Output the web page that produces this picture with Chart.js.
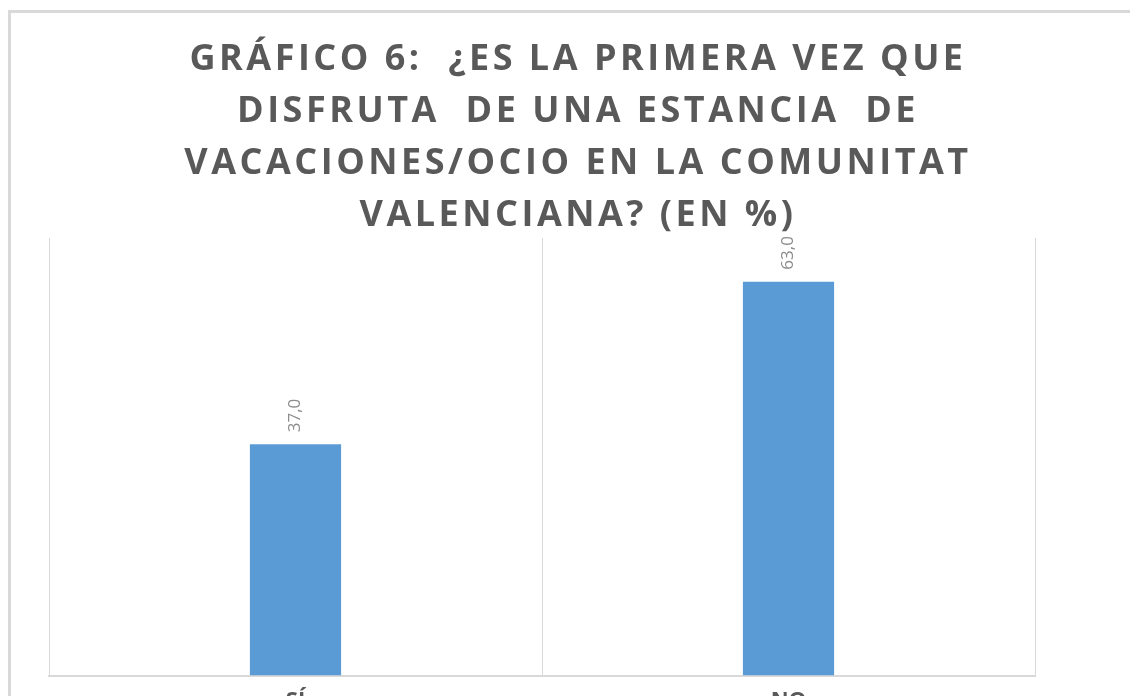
<!DOCTYPE html>
<html lang="es">
<head>
  <meta charset="UTF-8">
  <title>Gráfico 6</title>
  <script src="https://cdn.jsdelivr.net/npm/chart.js"></script>
  <style>
    html, body {
      margin: 0;
      background: #fff;
      overflow: hidden;
    }
    .frame {
      position: absolute;
      left: 8px;
      top: 10px;
      width: 1122px;
      height: 740px;
      border-left: 3px solid #d9d9d9;
      border-top: 3px solid #d9d9d9;
    }
    .frame canvas {
      display: block;
    }
  </style>
</head>
<body>
  <div class="frame">
    <canvas id="chart" width="1119" height="740"></canvas>
  </div>

  <script>
    const categories = ['SÍ', 'NO'];
    const values = [37.0, 63.0];
    const titleLines = [
      'GRÁFICO 6:  ¿ES LA PRIMERA VEZ QUE',
      'DISFRUTA  DE UNA ESTANCIA  DE',
      'VACACIONES/OCIO EN LA COMUNITAT',
      'VALENCIANA? (EN %)'
    ];

    // value labels turned on their side, just above each bar
    const barLabels = {
      id: 'barLabels',
      afterDatasetsDraw(chart) {
        const ctx = chart.ctx;
        const meta = chart.getDatasetMeta(0);
        ctx.save();
        ctx.font = '17px "Open Sans", sans-serif';
        ctx.fillStyle = '#8c8c8c';
        ctx.textAlign = 'left';
        ctx.textBaseline = 'middle';
        meta.data.forEach((bar, i) => {
          ctx.save();
          ctx.translate(bar.x, bar.y - 12);
          ctx.rotate(-Math.PI / 2);
          ctx.fillText(values[i].toFixed(1).replace('.', ','), 0, 0);
          ctx.restore();
        });
        ctx.restore();
      }
    };

    // title: shifted a bit right of the plot centre and letter-spaced, as in the original
    const titleTweak = {
      id: 'titleTweak',
      afterLayout(chart) {
        const tb = chart.titleBlock;
        if (!tb) return;
        tb.left += 36;
        tb.right += 36;
        if (!tb._spaced) {
          const draw = tb.draw;
          tb.draw = function () {
            this.ctx.save();
            this.ctx.letterSpacing = '3.5px';
            draw.apply(this, arguments);
            this.ctx.restore();
          };
          tb._spaced = true;
        }
      }
    };

    new Chart(document.getElementById('chart'), {
      type: 'bar',
      data: {
        labels: categories,
        datasets: [{
          data: values,
          backgroundColor: '#5b9bd5',
          barPercentage: 0.185,
          categoryPercentage: 1
        }]
      },
      options: {
        responsive: false,
        animation: false,
        layout: {
          padding: { left: 38, right: 95, top: 0, bottom: 27 }
        },
        plugins: {
          legend: { display: false },
          tooltip: { enabled: false },
          title: {
            display: true,
            text: titleLines,
            color: '#595959',
            font: { family: '"Open Sans", sans-serif', size: 36, weight: 'bold', lineHeight: 1.444 },
            padding: { top: 21, bottom: -4 }
          }
        },
        scales: {
          x: {
            grid: { color: '#d9d9d9', lineWidth: 1, drawTicks: false },
            border: { color: '#d9d9d9', width: 2 },
            ticks: {
              color: '#595959',
              padding: 12,
              font: { family: '"Open Sans", sans-serif', size: 22, weight: 'bold' }
            }
          },
          y: {
            display: false,
            min: 0,
            max: 70
          }
        }
      },
      plugins: [barLabels, titleTweak]
    });
  </script>
</body>
</html>
